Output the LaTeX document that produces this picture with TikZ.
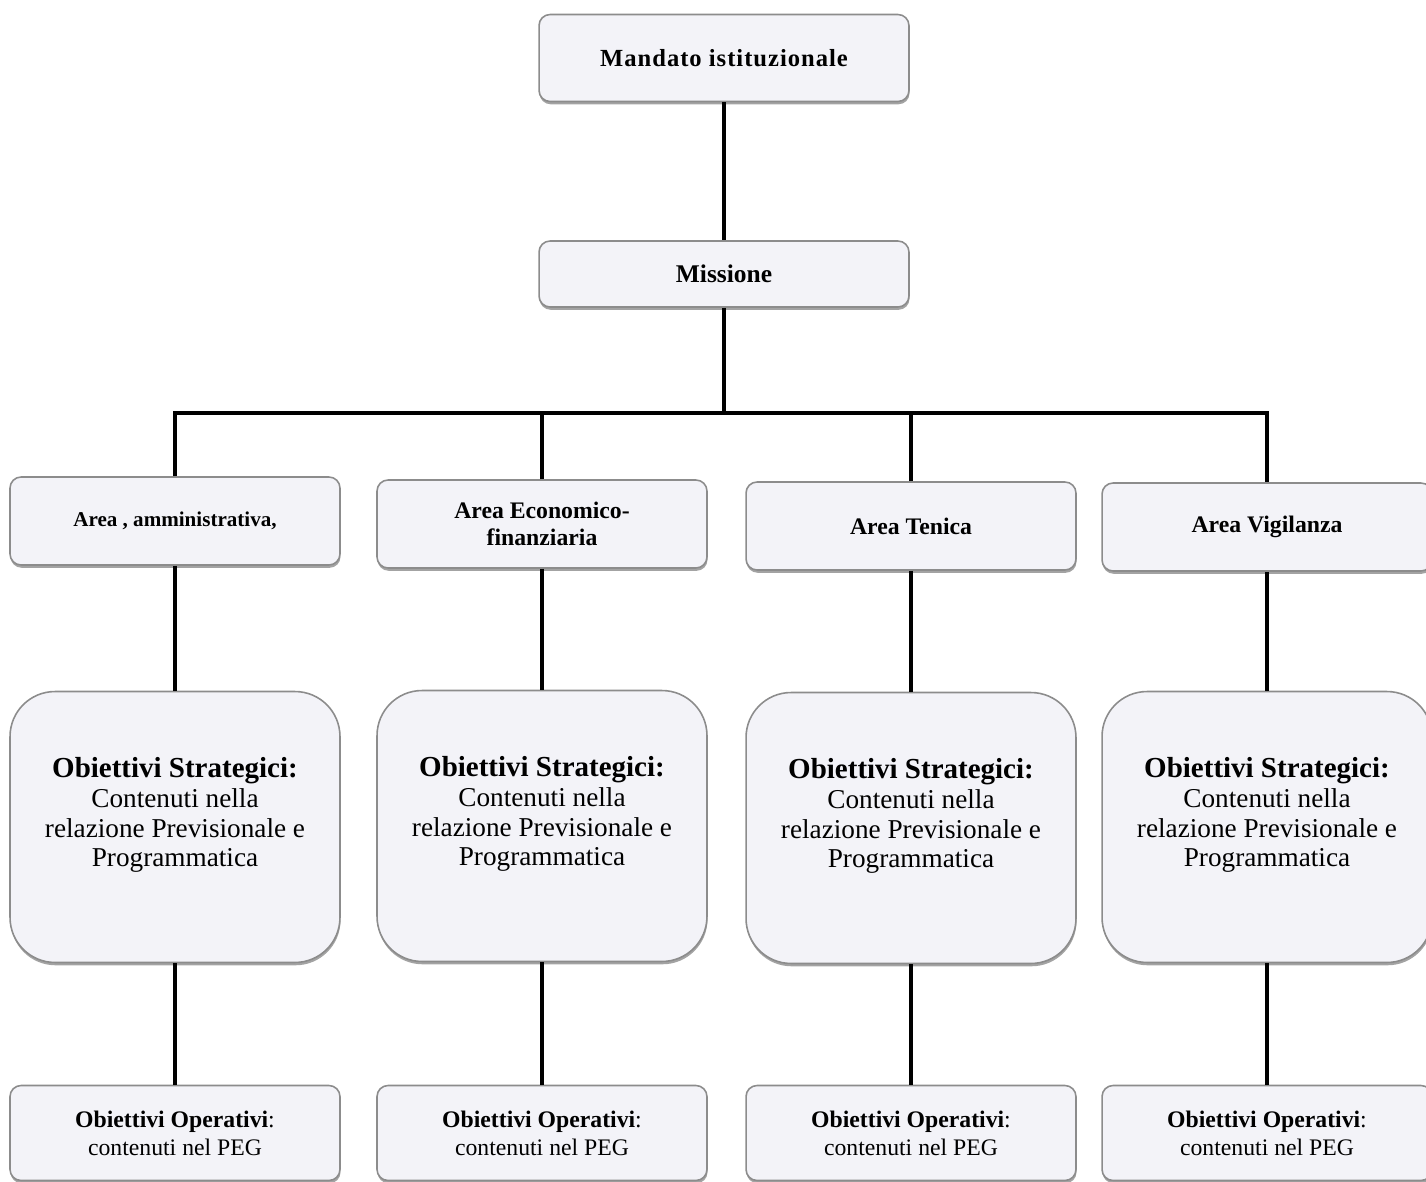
\documentclass[tikz,border=0pt]{standalone}
\usepackage{fontspec}
\setmainfont{Liberation Serif}
\usetikzlibrary{shadows}
\definecolor{boxfill}{RGB}{243,243,248}
\definecolor{boxline}{RGB}{140,140,140}
\tikzset{
  box/.style={draw=boxline,fill=boxfill,line width=0.9pt,rounded corners=0.22cm,
    align=center,inner sep=2pt,minimum width=6.6cm,
    drop shadow={shadow xshift=0.3pt,shadow yshift=-1.6pt,fill=black!45,opacity=0.8}},
  bigbox/.style={box,rounded corners=0.9cm,minimum height=5.42cm},
  link/.style={line width=2.3pt,black}
}
\begin{document}
\begin{tikzpicture}[x=0.02cm,y=-0.02cm]
\useasboundingbox (0,0) rectangle (1426,1182);
% top of the chart
\node[box,minimum width=7.4cm,minimum height=1.74cm,font=\bfseries\fontsize{14}{16}\selectfont\addfontfeatures{LetterSpace=4}] (mandato) at (724,58) {Mandato istituzionale};
\node[box,minimum width=7.4cm,minimum height=1.32cm,font=\bfseries\fontsize{14.5}{16}\selectfont] (missione) at (724,274) {Missione};
\coordinate (bar) at (724,413);
% areas
\node[box,minimum height=1.76cm,font=\bfseries\fontsize{12}{14}\selectfont] (a1) at (175,521) {Area , amministrativa,};
\node[box,minimum height=1.76cm,font=\bfseries\fontsize{13.5}{15.5}\selectfont] (a2) at (542,524) {Area Economico-\\finanziaria};
\node[box,minimum height=1.76cm,font=\bfseries\fontsize{13.5}{15.5}\selectfont] (a3) at (911,526) {Area Tenica};
\node[box,minimum height=1.76cm,font=\bfseries\fontsize{13.5}{15.5}\selectfont] (a4) at (1267,527) {Area Vigilanza};
% strategic and operative goals
\foreach \c/\x/\ys/\yo in {1/175/827/1133,2/542/826/1133,3/911/828/1133,4/1267/827/1133}{
  \node[bigbox,font=\fontsize{15.5}{17}\selectfont] (s\c) at (\x,\ys)
    {{\fontsize{16.5}{17}\selectfont\bfseries Obiettivi Strategici:}\\Contenuti nella\\relazione Previsionale e\\Programmatica\\};
  \node[box,minimum height=1.9cm,font=\fontsize{13.5}{16}\selectfont] (o\c) at (\x,\yo)
    {\textbf{Obiettivi Operativi}:\\contenuti nel PEG};
}
% connectors
\draw[link] (mandato) -- (missione);
\draw[link] (missione) -- (bar);
\draw[link] (a1) |- (bar) -| (a4);
\draw[link] (a2) -- (a2|-bar);
\draw[link] (a3) -- (a3|-bar);
\foreach \c in {1,2,3,4}{
  \draw[link] (a\c) -- (s\c);
  \draw[link] (s\c) -- (o\c);
}
\end{tikzpicture}
\end{document}
